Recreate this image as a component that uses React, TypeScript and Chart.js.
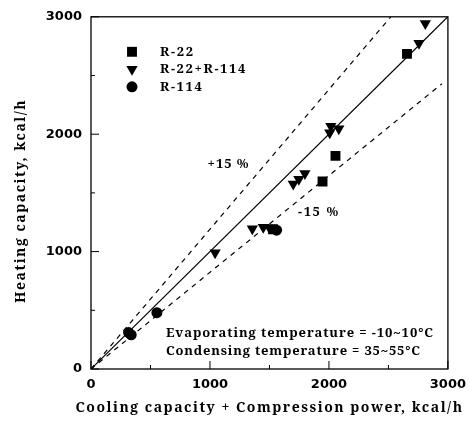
import React, { useEffect, useRef } from 'react';
import { Chart, registerables } from 'chart.js';
Chart.register(...registerables);

// Data (kcal/h)
const r22X = [2656, 2055, 1946, 1530];
const r22Y = [2684, 1815, 1597, 1190];
const mixX = [2810, 2757, 2007, 2016, 2083, 1700, 1747, 1798, 1356, 1448, 1500, 1043];
const mixY = [2943, 2774, 2012, 2068, 2046, 1575, 1617, 1665, 1194, 1208, 1200, 990];
const r114X = [554, 316, 338, 1560];
const r114Y = [480, 310, 291, 1182];
const idealX = [0, 3000];
const idealY = [0, 3000];
const plusX = [0, 2520];
const plusY = [0, 3000];
const minusX = [0, 2950];
const minusY = [0, 2430];
const majorTicks = [0, 1000, 2000, 3000];
const minorTicks = [500, 1500, 2500];
const legendLabels = ['R-22', 'R-22+R-114', 'R-114'];
const xTitle = 'Cooling capacity + Compression power, kcal/h';
const yTitle = 'Heating capacity, kcal/h';
const plusNote = '+15 %';
const minusNote = '-15 %';
const conditionLines = ['Evaporating temperature = -10~10°C', 'Condensing temperature = 35~55°C'];

const SERIF = '"Noto Serif", "Liberation Serif", serif';
const SANS = '"DejaVu Sans", sans-serif';

const toPts = (xs: number[], ys: number[]) => xs.map((x, i) => ({ x, y: ys[i] }));

function fitText(ctx: CanvasRenderingContext2D, text: string, target: number) {
  (ctx as any).letterSpacing = '0px';
  const w = ctx.measureText(text).width;
  const s = Math.max(0, (target - w) / text.length);
  (ctx as any).letterSpacing = s.toFixed(2) + 'px';
}

const decorPlugin = {
  id: 'decor',
  afterDatasetsDraw(chart: any) {
    const { ctx, chartArea, scales } = chart;
    const xs = scales.x;
    const ys = scales.y;
    ctx.save();
    ctx.strokeStyle = '#000';
    ctx.lineWidth = 1.3;
    ctx.strokeRect(chartArea.left, chartArea.top, chartArea.right - chartArea.left, chartArea.bottom - chartArea.top);
    ctx.lineWidth = 1;
    const drawTick = (v: number, len: number) => {
      const px = xs.getPixelForValue(v);
      ctx.beginPath();
      ctx.moveTo(px, chartArea.bottom);
      ctx.lineTo(px, chartArea.bottom - len);
      ctx.stroke();
      const py = ys.getPixelForValue(v);
      ctx.beginPath();
      ctx.moveTo(chartArea.left, py);
      ctx.lineTo(chartArea.left + len, py);
      ctx.stroke();
    };
    majorTicks.forEach((v) => drawTick(v, 8));
    minorTicks.forEach((v) => drawTick(v, 4));

    // legend
    const styles = [
      { style: 'rect', r: 7 },
      { style: 'triangle', r: 6.5 },
      { style: 'circle', r: 5.5 },
    ];
    ctx.fillStyle = '#000';
    ctx.textBaseline = 'middle';
    ctx.textAlign = 'left';
    ctx.font = 'bold 13px ' + SERIF;
    legendLabels.forEach((lab, i) => {
      const y = chartArea.top + 35 + i * 17.5;
      const x = chartArea.left + 41;
      const s = styles[i];
      ctx.beginPath();
      if (s.style === 'rect') {
        const h = s.r * Math.SQRT1_2;
        ctx.rect(x - h, y - h, 2 * h, 2 * h);
      } else if (s.style === 'triangle') {
        ctx.moveTo(x - s.r * 0.866, y - s.r * 0.5);
        ctx.lineTo(x + s.r * 0.866, y - s.r * 0.5);
        ctx.lineTo(x, y + s.r);
        ctx.closePath();
      } else {
        ctx.arc(x, y, s.r, 0, Math.PI * 2);
      }
      ctx.fill();
      fitText(ctx, lab, lab.length * 8.7);
      ctx.fillText(lab, chartArea.left + 69, y);
    });

    fitText(ctx, plusNote, 42);
    ctx.fillText(plusNote, xs.getPixelForValue(980), ys.getPixelForValue(1741));
    fitText(ctx, minusNote, 42);
    ctx.fillText(minusNote, xs.getPixelForValue(1740), ys.getPixelForValue(1335));

    ctx.font = 'bold 13px ' + SERIF;
    fitText(ctx, conditionLines[0], 268);
    ctx.fillText(conditionLines[0], xs.getPixelForValue(630), ys.getPixelForValue(305));
    fitText(ctx, conditionLines[1], 255);
    ctx.fillText(conditionLines[1], xs.getPixelForValue(630), ys.getPixelForValue(150));

    // axis titles
    ctx.font = 'bold 14px ' + SERIF;
    ctx.textAlign = 'center';
    fitText(ctx, xTitle, 388);
    ctx.fillText(xTitle, (chartArea.left + chartArea.right) / 2, chart.height - 16);
    ctx.save();
    ctx.translate(21, (chartArea.top + chartArea.bottom) / 2 + 8);
    ctx.rotate(-Math.PI / 2);
    fitText(ctx, yTitle, 204);
    ctx.fillText(yTitle, 0, 0);
    ctx.restore();
    ctx.restore();
  },
};

export default function App() {
  const ref = useRef<HTMLCanvasElement>(null);
  useEffect(() => {
    document.body.style.margin = '0';
    const canvas = ref.current!;
    const lineDs = (xs: number[], ys: number[], dash: number[]) => ({
      type: 'line' as const,
      data: toPts(xs, ys),
      borderColor: '#000',
      borderWidth: 1.2,
      borderDash: dash,
      pointRadius: 0,
      fill: false,
      order: 2,
    });
    const tickFont = { family: SANS, size: 13, weight: 'bold' };
    const chart = new Chart(canvas, {
      type: 'scatter',
      data: {
        datasets: [
          { label: 'R-22', data: toPts(r22X, r22Y), pointStyle: 'rect', pointRadius: 7, backgroundColor: '#000', borderColor: '#000', borderWidth: 0, order: 1 } as any,
          { label: 'R-22+R-114', data: toPts(mixX, mixY), pointStyle: 'triangle', rotation: 180, pointRadius: 6.5, backgroundColor: '#000', borderColor: '#000', borderWidth: 0, order: 1 } as any,
          { label: 'R-114', data: toPts(r114X, r114Y), pointStyle: 'circle', pointRadius: 5.5, backgroundColor: '#000', borderColor: '#000', borderWidth: 0, order: 1 } as any,
          lineDs(idealX, idealY, []),
          lineDs(plusX, plusY, [5, 5]),
          lineDs(minusX, minusY, [5, 5]),
        ],
      },
      options: {
        responsive: false,
        animation: false,
        layout: { padding: { top: 15, right: 26, left: 0, bottom: 0 } },
        plugins: { legend: { display: false }, tooltip: { enabled: false } },
        scales: {
          x: {
            type: 'linear',
            min: 0,
            max: 3000,
            afterFit: (s: any) => { s.height = 55; },
            afterBuildTicks: (s: any) => { s.ticks = majorTicks.map((v) => ({ value: v })); },
            grid: { display: false, drawTicks: false },
            border: { display: false },
            ticks: { color: '#000', padding: 8, font: tickFont, callback: (v: any) => String(v) },
            title: { display: false },
          },
          y: {
            type: 'linear',
            min: 0,
            max: 3000,
            afterFit: (s: any) => { s.width = 91; },
            afterBuildTicks: (s: any) => { s.ticks = majorTicks.map((v) => ({ value: v })); },
            grid: { display: false, drawTicks: false },
            border: { display: false },
            ticks: { color: '#000', padding: 9, font: tickFont, callback: (v: any) => String(v) },
            title: { display: false },
          },
        },
      } as any,
      plugins: [decorPlugin],
    });
    return () => chart.destroy();
  }, []);
  return (
    <div style={{ width: 474, height: 424 }}>
      <canvas ref={ref} width={474} height={424} />
    </div>
  );
}
